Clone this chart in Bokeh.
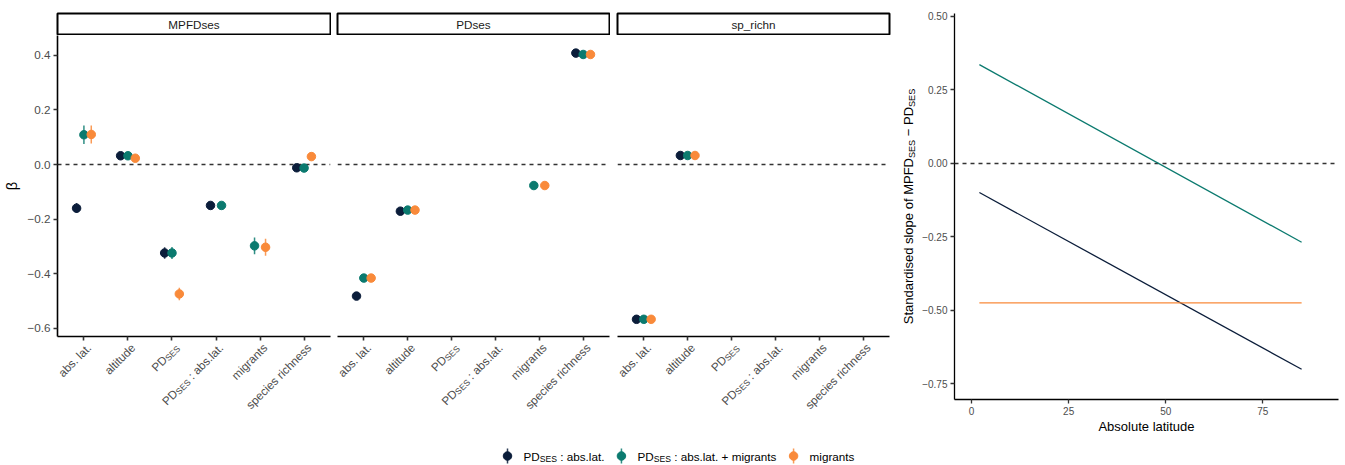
import math
from bokeh.plotting import figure
from bokeh.models import (Range1d, FixedTicker, Label, Span,
                          ColumnDataSource, CustomJSTickFormatter)
from bokeh.layouts import row, column
from bokeh.embed import file_html
from bokeh.resources import INLINE

# ---------------- data ----------------
panels = ["MPFDses", "PDses", "sp_richn"]
terms = ["abs. lat.", "altitude", "PD_SES", "PD_SES:abs.lat.", "migrants", "species richness"]
models = ["PD_SES:abs.lat.", "PD_SES:abs.lat.+migrants", "migrants"]
model_colors = ["#0B1D3A", "#0B7A6F", "#F98A3A"]

# MPFDses panel (long format)
mpfd_term = ["abs. lat.", "altitude", "PD_SES", "PD_SES:abs.lat.", "species richness",
             "abs. lat.", "altitude", "PD_SES", "PD_SES:abs.lat.", "migrants", "species richness",
             "abs. lat.", "altitude", "PD_SES", "migrants", "species richness"]
mpfd_model = [0, 0, 0, 0, 0,
              1, 1, 1, 1, 1, 1,
              2, 2, 2, 2, 2]
mpfd_est = [-0.160, 0.032, -0.324, -0.150, -0.012,
            0.109, 0.032, -0.324, -0.150, -0.298, -0.013,
            0.110, 0.023, -0.474, -0.303, 0.029]
mpfd_lo = [-0.178, 0.025, -0.345, -0.160, -0.026,
           0.075, 0.025, -0.346, -0.160, -0.329, -0.027,
           0.077, 0.015, -0.497, -0.334, 0.015]
mpfd_hi = [-0.141, 0.040, -0.303, -0.140, 0.002,
           0.143, 0.040, -0.302, -0.140, -0.267, 0.001,
           0.143, 0.031, -0.451, -0.272, 0.043]

# PDses panel
pd_term = ["abs. lat.", "altitude", "species richness",
           "abs. lat.", "altitude", "migrants", "species richness",
           "abs. lat.", "altitude", "migrants", "species richness"]
pd_model = [0, 0, 0, 1, 1, 1, 1, 2, 2, 2, 2]
pd_est = [-0.482, -0.171, 0.408, -0.416, -0.167, -0.077, 0.403, -0.416, -0.167, -0.077, 0.403]
pd_lo = [-0.489, -0.177, 0.402, -0.430, -0.173, -0.090, 0.397, -0.430, -0.173, -0.090, 0.397]
pd_hi = [-0.475, -0.165, 0.414, -0.402, -0.161, -0.064, 0.409, -0.402, -0.161, -0.064, 0.409]

# sp_richn panel
sr_term = ["abs. lat.", "altitude", "abs. lat.", "altitude", "abs. lat.", "altitude"]
sr_model = [0, 0, 1, 1, 2, 2]
sr_est = [-0.567, 0.033, -0.567, 0.033, -0.567, 0.033]
sr_lo = [-0.573, 0.027, -0.573, 0.027, -0.573, 0.027]
sr_hi = [-0.561, 0.039, -0.561, 0.039, -0.561, 0.039]

panel_data = [
    (mpfd_term, mpfd_model, mpfd_est, mpfd_lo, mpfd_hi),
    (pd_term, pd_model, pd_est, pd_lo, pd_hi),
    (sr_term, sr_model, sr_est, sr_lo, sr_hi),
]

# right panel: standardised slope vs absolute latitude
lat_ends = [2, 85]
slope_m0 = [-0.099, -0.700]
slope_m1 = [0.336, -0.268]
slope_m2 = [-0.474, -0.474]
slopes = [slope_m0, slope_m1, slope_m2]

# ---------------- style / layout ----------------
FONT = "Liberation Sans"
AXIS_TXT = "#4D4D4D"
TXT = 11.7
SUB = 8.6
DODGE = 0.5
LB = [57, 6, 7]
RB = [1, 1, 2]
FW = [273, 272, 272]
PAD = 0.6                      # discrete axis expansion (category units)
PANEL_H = 301
AX_H = 5                       # axis band below each panel
LAB_H = 96                     # tick-label band
LEG_H = 27
NT = len(terms)
term_pos = {t: i + 1 for i, t in enumerate(terms)}   # discrete positions 1..n

ARIAL = {' ': 278, '!': 278, '(': 333, ')': 333, '.': 278, ',': 278, ':': 278, '-': 333,
         '\u2212': 584, '+': 584, '_': 556}
for ch in "0123456789":
    ARIAL[ch] = 556
ARIAL.update(dict(A=667, B=667, C=722, D=722, E=667, F=611, G=778, H=722, I=278, J=500, K=667,
                  L=556, M=833, N=722, O=778, P=667, Q=778, R=722, S=667, T=611, U=722, V=667,
                  W=944, X=667, Y=667, Z=611))
ARIAL.update(dict(a=556, b=556, c=500, d=556, e=556, f=278, g=556, h=556, i=222, j=222, k=500,
                  l=222, m=833, n=556, o=556, p=556, q=556, r=333, s=500, t=278, u=556, v=500,
                  w=722, x=500, y=500, z=500))


def tw(s, size):
    return sum(ARIAL.get(ch, 556) for ch in s) * size / 1000.0


def rich_text(p, pieces, x, y, angle, align, color, bx=0.0, by=0.0):
    """pieces: list of (text, font_px, shift_down_px); x, y in data units."""
    widths = [tw(t, s) for t, s, _ in pieces]
    total = sum(widths)
    ux, uy = math.cos(angle), math.sin(angle)
    dx, dy = math.sin(angle), -math.cos(angle)
    c = {"left": 0.0, "right": -total, "center": -total / 2}[align]
    for (t, s, sh), w in zip(pieces, widths):
        if t.strip():
            p.add_layout(Label(x=x, y=y, x_offset=bx + c * ux + sh * dx,
                               y_offset=by + c * uy + sh * dy,
                               angle=angle, text=t, text_align="left", text_baseline="middle",
                               text_font=FONT, text_font_size=f"{s}px", text_color=color))
        c += w


def pd_pieces(rest, size, sub, shift):
    out = [("PD", size, 0), ("SES", sub, shift)]
    if rest:
        out += [(" ", size, 0), (rest, size, 0)]
    return out


tick_pieces = {t: [(t, TXT, 0)] for t in terms}
tick_pieces["PD_SES"] = pd_pieces("", TXT, SUB, 2.5)
tick_pieces["PD_SES:abs.lat."] = pd_pieces(": abs.lat.", TXT, SUB, 2.5)


def dodge_x(term_list, model_list):
    xs = []
    for t, m in zip(term_list, model_list):
        present = sorted({mm for tt, mm in zip(term_list, model_list) if tt == t})
        n = len(present)
        i = present.index(m)
        off = -DODGE / 2 + DODGE / (2 * n) + i * DODGE / n
        xs.append(term_pos[t] + off)
    return xs


def bare(p):
    p.xgrid.visible = False
    p.ygrid.visible = False
    p.outline_line_color = None


# ---------------- strips ----------------
strips = []
for k, name in enumerate(panels):
    s = figure(frame_width=FW[k], frame_height=21, min_border_left=LB[k], min_border_right=RB[k],
               min_border_top=13, min_border_bottom=1, x_range=Range1d(0, 1), y_range=Range1d(0, 1),
               x_axis_location=None, y_axis_location=None, output_backend="svg",
               toolbar_location=None)
    bare(s)
    s.outline_line_color = "black"
    s.outline_line_width = 2
    s.add_layout(Label(x=0.5, y=0.5, text=name, text_align="center", text_baseline="middle",
                       text_font=FONT, text_font_size=f"{TXT}px", text_color="#1A1A1A"))
    strips.append(s)

# ---------------- coefficient panels ----------------
panel_figs = []
label_figs = []
for k, name in enumerate(panels):
    p = figure(frame_width=FW[k], frame_height=PANEL_H, min_border_left=LB[k],
               min_border_right=RB[k], min_border_top=0, min_border_bottom=AX_H,
               x_range=Range1d(1 - PAD, NT + PAD),
               y_range=Range1d(-0.630, 0.4725),
               y_axis_location="left" if k == 0 else None,
               output_backend="svg", toolbar_location=None)
    bare(p)

    ax = p.xaxis[0]
    ax.ticker = FixedTicker(ticks=list(term_pos.values()))
    ax.formatter = CustomJSTickFormatter(code="return '';")
    ax.major_label_text_font_size = "1px"
    ax.major_label_standoff = 0
    ax.major_tick_out = 4
    ax.major_tick_in = 0
    ax.minor_tick_line_color = None
    ax.axis_line_color = "black"
    ax.axis_line_width = 1.6
    ax.major_tick_line_color = "#333333"
    ax.major_tick_line_width = 1.6

    if k == 0:
        ay = p.yaxis[0]
        ay.ticker = FixedTicker(ticks=[-0.6, -0.4, -0.2, 0.0, 0.2, 0.4])
        ay.formatter = CustomJSTickFormatter(
            code="return (tick < -1e-9 ? '\u2212' : '') + Math.abs(tick).toFixed(1);")
        ay.minor_tick_line_color = None
        ay.major_label_text_font = FONT
        ay.major_label_text_font_size = f"{TXT}px"
        ay.major_label_text_color = AXIS_TXT
        ay.major_label_standoff = 3
        ay.major_tick_out = 4
        ay.major_tick_in = 0
        ay.axis_line_color = "black"
        ay.axis_line_width = 1.6
        ay.major_tick_line_color = "#333333"
        ay.major_tick_line_width = 1.6
        ay.axis_label = "β"
        ay.axis_label_text_font = FONT
        ay.axis_label_text_font_size = "14.7px"
        ay.axis_label_text_font_style = "normal"
        ay.axis_label_text_color = "black"
        ay.axis_label_standoff = 4

    p.add_layout(Span(location=0, dimension="width", line_color="#333333", line_width=1.4,
                      line_dash="4 4", level="underlay"))

    term_list, model_list, est, lo, hi = panel_data[k]
    src = ColumnDataSource(dict(x=dodge_x(term_list, model_list), y=est, lo=lo, hi=hi,
                                color=[model_colors[m] for m in model_list]))
    p.segment(x0="x", y0="lo", x1="x", y1="hi", line_color="color", line_width=1.5,
              line_alpha=0.85, source=src)
    p.scatter(x="x", y="y", size=8.5, fill_color="color", line_color="color", source=src)
    panel_figs.append(p)

    # band with the (partly sub-scripted) rotated tick labels, on the same discrete scale
    ppu = FW[k] / (NT - 1 + 2 * PAD)
    lw = LB[k] + FW[k] + RB[k]
    lf = figure(frame_width=lw, frame_height=LAB_H, min_border_left=0, min_border_right=0,
                min_border_top=0, min_border_bottom=0,
                x_range=Range1d(1 - PAD - LB[k] / ppu, NT + PAD + RB[k] / ppu),
                y_range=Range1d(-LAB_H, 0), x_axis_location=None, y_axis_location=None,
                output_backend="svg", toolbar_location=None)
    bare(lf)
    for t in terms:
        rich_text(lf, tick_pieces[t], term_pos[t], -4, math.pi / 4, "right",
                  AXIS_TXT, bx=5)
    label_figs.append(lf)

# ---------------- legend ----------------
LEG_W = sum(LB) + sum(FW) + sum(RB)
leg = figure(frame_width=LEG_W, frame_height=LEG_H, min_border_left=0, min_border_right=0,
             min_border_top=0, min_border_bottom=0, x_range=Range1d(0, LEG_W),
             y_range=Range1d(0, LEG_H), x_axis_location=None, y_axis_location=None,
             output_backend="svg", toolbar_location=None)
bare(leg)
legend_texts = [pd_pieces(": abs.lat.", TXT, SUB, 2.5),
                pd_pieces(": abs.lat. + migrants", TXT, SUB, 2.5),
                [("migrants", TXT, 0)]]
kx = 507.0
key_x = []
for pieces in legend_texts:
    key_x.append(kx)
    rich_text(leg, pieces, kx + 16, 8.5, 0.0, "left", "black")
    kx = kx + 16 + sum(tw(t, s) for t, s, _ in pieces) + 17
lsrc = ColumnDataSource(dict(x=key_x, y=[8.5] * 3, y0=[1] * 3, y1=[16] * 3, color=model_colors))
leg.segment(x0="x", y0="y0", x1="x", y1="y1", line_color="color", line_width=1.5,
            line_alpha=0.85, source=lsrc)
leg.scatter(x="x", y="y", size=8.5, fill_color="color", line_color="color", source=lsrc)

# ---------------- right panel ----------------
F4_TOP, F4_H, F4_BOT = 13, 386, 64
f4_yr = Range1d(-0.803, 0.51)
f4 = figure(frame_width=384, frame_height=F4_H, min_border_left=36, min_border_right=5,
            min_border_top=F4_TOP, min_border_bottom=F4_BOT, x_range=Range1d(-4.4, 94.5),
            y_range=f4_yr, output_backend="svg", toolbar_location=None)
bare(f4)
for ax in (f4.xaxis[0], f4.yaxis[0]):
    ax.major_label_text_font = FONT
    ax.major_label_text_font_size = "10px"
    ax.major_label_text_color = AXIS_TXT
    ax.major_label_standoff = 3
    ax.major_tick_out = 4
    ax.major_tick_in = 0
    ax.minor_tick_line_color = None
    ax.axis_line_color = "black"
    ax.axis_line_width = 1.3
    ax.major_tick_line_color = "#333333"
    ax.major_tick_line_width = 1.3
f4.xaxis[0].ticker = FixedTicker(ticks=[0, 25, 50, 75])
f4.yaxis[0].ticker = FixedTicker(ticks=[-0.75, -0.5, -0.25, 0.0, 0.25, 0.5])
f4.yaxis[0].formatter = CustomJSTickFormatter(
    code="return (tick < -1e-9 ? '\u2212' : '') + Math.abs(tick).toFixed(2);")
f4.xaxis[0].axis_label = "Absolute latitude"
f4.xaxis[0].axis_label_text_font = FONT
f4.xaxis[0].axis_label_text_font_size = "13px"
f4.xaxis[0].axis_label_text_font_style = "normal"
f4.xaxis[0].axis_label_text_color = "black"
f4.xaxis[0].axis_label_standoff = 1

f4.add_layout(Span(location=0, dimension="width", line_color="#333333", line_width=1.4,
                   line_dash="4 4", level="underlay"))
for vals, col in zip(slopes, model_colors):
    f4.line(x=lat_ends, y=vals, line_color=col, line_width=1.3)

# y-axis title (with subscripts) in its own narrow band, sharing the y scale
YT_W = 27
yt = figure(frame_width=YT_W, frame_height=F4_H, min_border_left=0, min_border_right=0,
            min_border_top=F4_TOP, min_border_bottom=F4_BOT, x_range=Range1d(0, YT_W),
            y_range=f4_yr, x_axis_location=None, y_axis_location=None,
            output_backend="svg", toolbar_location=None)
bare(yt)
ytitle = [("Standardised slope of MPFD", 13, 0), ("SES", 9.1, 3), (" ", 13, 0),
          ("\u2212 PD", 13, 0), ("SES", 9.1, 3)]
rich_text(yt, ytitle, 17, (f4_yr.start + f4_yr.end) / 2, math.pi / 2, "center", "black")

left = column(row(*strips), row(*panel_figs), row(*label_figs), leg)
layout = row(left, yt, f4)

open("out.html", "w").write(file_html(layout, INLINE))
